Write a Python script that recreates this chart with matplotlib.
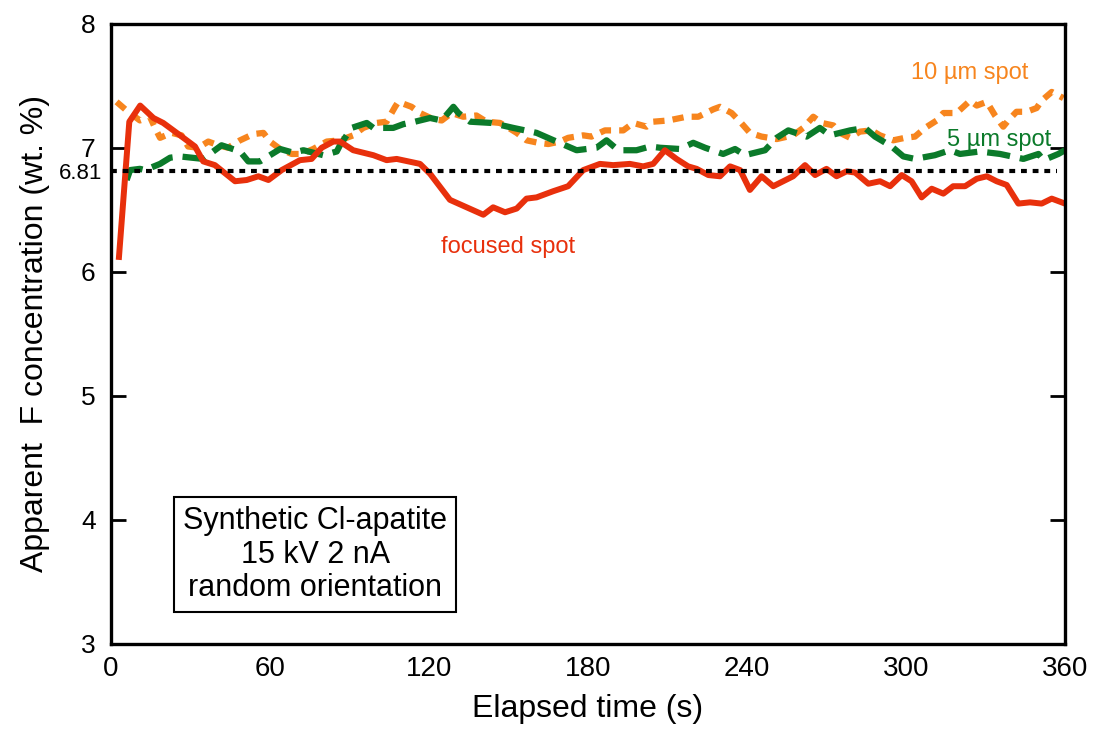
import numpy as np
import matplotlib
matplotlib.use("Agg")
import matplotlib.pyplot as plt

plt.rcParams["font.family"] = ["Liberation Sans", "DejaVu Sans"]

# ── Data ────────────────────────────────────────────────────────────────────────
focused_t = [3, 6.9, 11, 16, 19.7, 24.8, 31.7, 34.8, 39.2, 46.8, 51.2, 55.6, 59.4,
             64.4, 71.3, 75.7, 79.5, 83.9, 86.4, 91.4, 99, 104, 107.8, 116.6, 120.4,
             127.9, 134.2, 140.5, 144.2, 148.7, 153.1, 156.8, 160.6, 166.9, 172.5,
             178.2, 184.5, 189.5, 195.8, 200.8, 204.6, 209, 213.4, 217.8, 221, 225.4,
             229.8, 233.6, 237.4, 241.1, 245.5, 249.9, 257.4, 261.9, 265.7, 270,
             273.8, 277.6, 280.8, 285.8, 290.2, 294, 298.4, 302.1, 305.9, 309.7,
             314.1, 317.8, 322.3, 326.7, 330.5, 334.2, 338, 342.4, 346.8, 351.2,
             355, 360]
focused_f = [6.12, 7.21, 7.34, 7.24, 7.2, 7.12, 7.01, 6.89, 6.86, 6.73, 6.74, 6.77,
             6.74, 6.82, 6.90, 6.91, 7.0, 7.05, 7.05, 6.98, 6.94, 6.90, 6.91, 6.87,
             6.79, 6.58, 6.52, 6.46, 6.52, 6.48, 6.51, 6.59, 6.6, 6.65, 6.69, 6.82,
             6.87, 6.86, 6.87, 6.85, 6.87, 6.98, 6.91, 6.85, 6.83, 6.78, 6.77, 6.85,
             6.82, 6.66, 6.77, 6.69, 6.77, 6.86, 6.78, 6.83, 6.77, 6.81, 6.80, 6.71,
             6.73, 6.69, 6.78, 6.73, 6.60, 6.67, 6.63, 6.69, 6.69, 6.75, 6.77, 6.73,
             6.70, 6.55, 6.56, 6.55, 6.59, 6.55]

spot5_t = [5.9, 7.2, 10.9, 12.8, 18.5, 22.3, 26, 34.8, 41.7, 48.7, 51.8, 56.2, 63.8,
           68.8, 72.6, 80.1, 85.2, 86.4, 90.8, 96.5, 99, 106.5, 110.3, 114.7, 120.4,
           124.8, 129.2, 131.1, 135.5, 143.6, 151.8, 160.6, 168.1, 175.7, 183.2,
           187, 191.4, 198.3, 203.4, 207.2, 214.7, 219.7, 224.2, 231, 235.5, 239.2,
           246.8, 251.2, 255.6, 262.5, 267.5, 271.3, 278.9, 284.5, 288.3, 294.6,
           299, 303.4, 310.9, 316.6, 320.4, 327.9, 335.5, 344.3, 350, 351.9, 357.5,
           360]
spot5_f = [6.74, 6.82, 6.83, 6.82, 6.87, 6.92, 6.93, 6.91, 7.02, 6.97, 6.89, 6.89,
           6.99, 6.96, 6.98, 6.94, 6.97, 7.02, 7.16, 7.2, 7.16, 7.16, 7.19, 7.21,
           7.24, 7.22, 7.33, 7.28, 7.21, 7.2, 7.16, 7.12, 7.05, 6.98, 7.0, 7.06,
           6.98, 6.98, 7.01, 7.0, 6.99, 7.04, 7.0, 6.95, 6.99, 6.94, 6.98, 7.08,
           7.14, 7.09, 7.16, 7.1, 7.14, 7.16, 7.09, 7.01, 6.93, 6.91, 6.94, 6.98,
           6.95, 6.97, 6.95, 6.91, 6.95, 6.90, 6.95, 6.98]

spot10_t = [2.1, 5.9, 10.9, 14.7, 16.6, 18.5, 22.9, 26.6, 29.1, 32.9, 36.7, 40.5,
            44.2, 48.7, 53.7, 57.5, 60, 63.8, 68.2, 71.9, 76.3, 81.4, 86.4, 91.4,
            95.2, 100.2, 104, 107.2, 108.4, 113.4, 116.6, 121.6, 124.8, 128.5,
            132.9, 137.9, 141.7, 146.8, 149.3, 153.1, 156.8, 161.2, 165, 169.4,
            172.5, 178.2, 181.3, 186.4, 193.3, 197.1, 202.1, 204.6, 210.3, 217.2,
            221.6, 227.3, 229.8, 234.2, 237.4, 241.1, 245.5, 251.2, 257.4, 261.2,
            265, 268.2, 272.6, 275.1, 278.9, 282.6, 287, 290.2, 295.2, 299.6, 303.4,
            307.2, 311.6, 314.1, 319.1, 324.2, 326.7, 330.5, 333.6, 336.7, 338.6,
            341.7, 345.5, 349.3, 351.2, 355, 359.4]
spot10_f = [7.37, 7.30, 7.22, 7.25, 7.16, 7.08, 7.12, 7.1, 7.01, 7.0, 7.05, 7.02,
            7.0, 7.06, 7.11, 7.12, 7.05, 6.99, 6.95, 6.95, 6.99, 7.05, 7.06, 7.1,
            7.16, 7.2, 7.21, 7.33, 7.37, 7.33, 7.28, 7.23, 7.22, 7.28, 7.25, 7.26,
            7.21, 7.2, 7.17, 7.12, 7.06, 7.04, 7.03, 7.05, 7.08, 7.1, 7.09, 7.14,
            7.14, 7.2, 7.17, 7.21, 7.22, 7.25, 7.25, 7.31, 7.33, 7.28, 7.21, 7.12,
            7.09, 7.07, 7.1, 7.16, 7.25, 7.2, 7.18, 7.12, 7.08, 7.13, 7.14, 7.10,
            7.06, 7.08, 7.09, 7.16, 7.22, 7.28, 7.28, 7.38, 7.34, 7.37, 7.26, 7.17,
            7.22, 7.29, 7.29, 7.32, 7.38, 7.45, 7.4]

mean_f = 6.81
x_ticks = [0, 60, 120, 180, 240, 300, 360]
y_ticks = [3, 4, 5, 6, 7, 8]

RED = "#E8300C"
GREEN = "#0B7A2A"
ORANGE = "#F7851E"

# ── Plot ────────────────────────────────────────────────────────────────────────
fig = plt.figure(figsize=(10.96, 7.29), dpi=100)
ax = fig.add_axes([0.1013, 0.1166, 0.8704, 0.8509])

ax.plot(spot10_t, spot10_f, color=ORANGE, lw=4.5, dashes=(1.8, 1.3))
ax.plot(spot5_t, spot5_f, color=GREEN, lw=4.5, dashes=(3.7, 1.6))
ax.plot(focused_t, focused_f, color=RED, lw=4.3)
ax.hlines(mean_f, 0, 357, color="black", lw=3, linestyles=(0, (1.4, 1.4)))

ax.set_xlim(0, 360)
ax.set_ylim(3, 8)
ax.set_xticks(x_ticks)
ax.set_yticks(y_ticks)
ax.tick_params(axis="x", length=0, labelsize=20, pad=9)
ax.tick_params(axis="y", direction="in", length=11, width=2, labelsize=19,
               right=True, pad=11)
for sp in ax.spines.values():
    sp.set_linewidth(2.4)

ax.set_xlabel("Elapsed time (s)", fontsize=23, labelpad=8)
ax.set_ylabel("Apparent  F concentration (wt. %)", fontsize=23, labelpad=22)

ax.text(-3.5, mean_f - 0.02, "6.81", fontsize=16, ha="right", va="center")
ax.text(324, 7.6, "10 µm spot", color=ORANGE, fontsize=17, ha="center", va="center")
ax.text(335, 7.06, "5 µm spot", color=GREEN, fontsize=17, ha="center", va="center")
ax.text(150, 6.2, "focused spot", color=RED, fontsize=17, ha="center", va="center")

ax.text(77, 3.72, "Synthetic Cl-apatite\n15 kV 2 nA\nrandom orientation",
        fontsize=22, ha="center", va="center", linespacing=1.15,
        bbox=dict(boxstyle="square,pad=0.3", fc="white", ec="black", lw=1.5))

fig.savefig("out.png", dpi=100)
